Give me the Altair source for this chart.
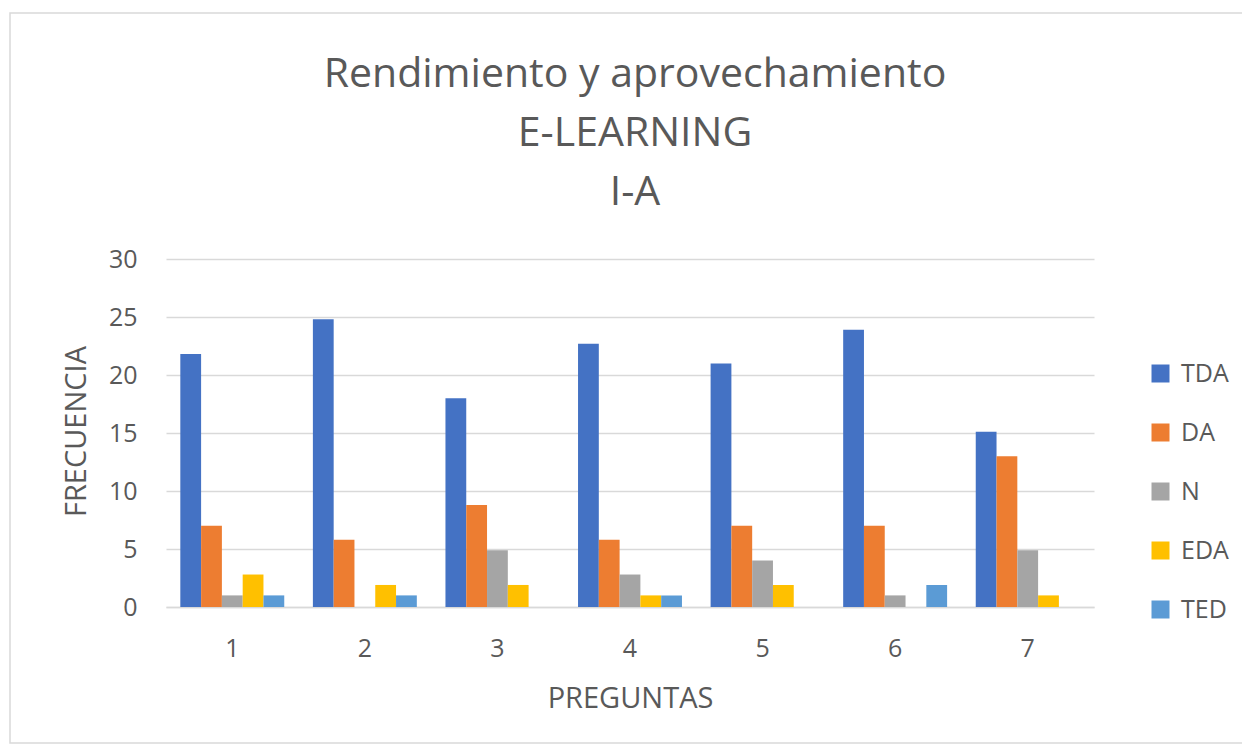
import altair as alt
import pandas as pd

preguntas = ["1", "2", "3", "4", "5", "6", "7"]
series = ["TDA", "DA", "N", "EDA", "TED"]
colors = ["#4472C4", "#ED7D31", "#A5A5A5", "#FFC000", "#5B9BD5"]

tda = [21.8, 24.8, 18.0, 22.7, 21.0, 23.9, 15.1]
da = [7.0, 5.8, 8.8, 5.8, 7.0, 7.0, 13.0]
n = [1.0, 0.0, 4.9, 2.8, 4.0, 1.0, 4.9]
eda = [2.8, 1.9, 1.9, 1.0, 1.9, 0.0, 1.0]
ted = [1.0, 1.0, 0.0, 1.0, 0.0, 1.9, 0.0]

values = {"TDA": tda, "DA": da, "N": n, "EDA": eda, "TED": ted}
rows = []
for s in series:
    for p, v in zip(preguntas, values[s]):
        rows.append({"Pregunta": p, "Serie": s, "Frecuencia": v})
df = pd.DataFrame(rows)

FONT = "Open Sans"
TXT = "#595959"
GRID = "#d9d9d9"

bars = alt.Chart(df).mark_bar().encode(
    x=alt.X(
        "Pregunta:N",
        sort=preguntas,
        scale=alt.Scale(paddingInner=0.216, paddingOuter=0.108),
        axis=alt.Axis(
            title="PREGUNTAS",
            labelAngle=0,
            labelFontSize=25,
            labelPadding=29,
            labelColor=TXT,
            labelFont=FONT,
            ticks=False,
            domainColor=GRID,
            domainWidth=1.4,
            titleFontSize=29,
            titleFont=FONT,
            titleFontWeight="normal",
            titleColor=TXT,
            titleY=91,
            titleBaseline="middle",
        ),
    ),
    xOffset=alt.XOffset("Serie:N", sort=series),
    y=alt.Y(
        "Frecuencia:Q",
        scale=alt.Scale(domain=[0, 30]),
        axis=alt.Axis(
            title="FRECUENCIA",
            values=[0, 5, 10, 15, 20, 25, 30],
            labelFontSize=25,
            labelPadding=29,
            labelColor=TXT,
            labelFont=FONT,
            ticks=False,
            domain=False,
            gridColor=GRID,
            gridWidth=1.4,
            titleFontSize=29,
            titleFont=FONT,
            titleFontWeight="normal",
            titleColor=TXT,
            titleAngle=270,
            titleX=-90,
            titleY=172,
            titleBaseline="middle",
            titleAlign="center",
        ),
    ),
    color=alt.Color(
        "Serie:N",
        sort=series,
        scale=alt.Scale(domain=series, range=colors),
        legend=alt.Legend(
            title=None,
            orient="none",
            legendX=982,
            legendY=102,
            symbolType="square",
            symbolSize=324,
            symbolStrokeWidth=0,
            labelFontSize=25,
            labelFont=FONT,
            labelColor=TXT,
            labelOffset=8,
            rowPadding=33,
        ),
    ),
)

frame = alt.Chart(pd.DataFrame({"a": [0]})).mark_rect(
    fill=None, stroke=GRID, strokeWidth=1.5
).encode(
    x=alt.value(-156), x2=alt.value(1083), y=alt.value(-246), y2=alt.value(484)
)

chart = alt.layer(frame, bars).properties(
    width=928,
    height=348,
    padding={"left": 158, "top": 251, "right": 148, "bottom": 138},
    autosize=alt.AutoSizeParams(type="none"),
    view=alt.ViewBackground(stroke="transparent", strokeWidth=0),
    title=alt.TitleParams(
        text=["Rendimiento y aprovechamiento", "E-LEARNING", "I-A"],
        fontSize=41,
        font=FONT,
        fontWeight="normal",
        color=TXT,
        lineHeight=59,
        anchor="middle",
        frame="group",
        offset=-202,
        dx=5,
    ),
).configure_view(strokeWidth=0, stroke="transparent").configure(background="white")

chart.save("out.html", embed_options={"renderer": "svg", "actions": False})
